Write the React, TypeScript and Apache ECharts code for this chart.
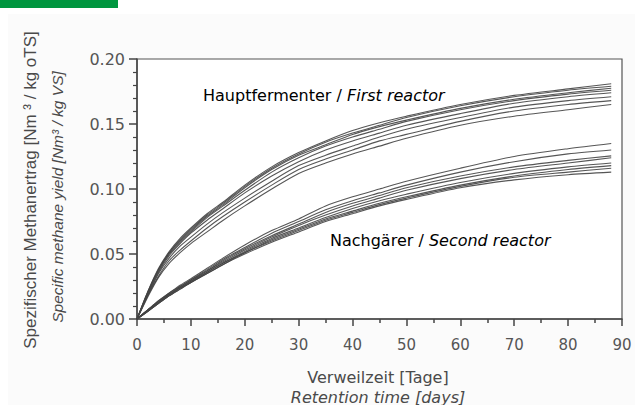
import React, { useEffect, useRef } from "react";
import * as echarts from "echarts";

const days = [0, 2, 4, 6, 8, 10, 13, 16, 20, 25, 30, 35, 40, 45, 50, 60, 70, 80, 88];

const firstReactor = [
  [0, 0.021, 0.039, 0.052, 0.062, 0.070, 0.081, 0.090, 0.103, 0.117, 0.128, 0.137, 0.145, 0.151, 0.156, 0.165, 0.172, 0.177, 0.181],
  [0, 0.021, 0.038, 0.051, 0.061, 0.069, 0.080, 0.089, 0.102, 0.116, 0.127, 0.136, 0.143, 0.149, 0.155, 0.164, 0.171, 0.176, 0.179],
  [0, 0.020, 0.038, 0.051, 0.060, 0.068, 0.079, 0.088, 0.101, 0.115, 0.126, 0.134, 0.142, 0.148, 0.153, 0.162, 0.169, 0.174, 0.1775],
  [0, 0.020, 0.037, 0.050, 0.059, 0.067, 0.078, 0.087, 0.099, 0.113, 0.124, 0.133, 0.140, 0.146, 0.152, 0.161, 0.168, 0.173, 0.176],
  [0, 0.019, 0.036, 0.049, 0.058, 0.066, 0.076, 0.085, 0.097, 0.110, 0.121, 0.130, 0.137, 0.143, 0.149, 0.158, 0.166, 0.171, 0.174],
  [0, 0.018, 0.035, 0.047, 0.056, 0.063, 0.073, 0.082, 0.093, 0.106, 0.118, 0.126, 0.133, 0.140, 0.146, 0.155, 0.163, 0.168, 0.171],
  [0, 0.018, 0.033, 0.045, 0.053, 0.060, 0.070, 0.079, 0.090, 0.103, 0.115, 0.123, 0.130, 0.137, 0.142, 0.152, 0.160, 0.165, 0.168],
  [0, 0.017, 0.032, 0.043, 0.051, 0.058, 0.067, 0.076, 0.087, 0.100, 0.112, 0.120, 0.127, 0.133, 0.139, 0.149, 0.156, 0.161, 0.165],
];

const secondReactor = [
  [0, 0.007, 0.014, 0.020, 0.026, 0.031, 0.039, 0.047, 0.057, 0.068, 0.077, 0.087, 0.094, 0.100, 0.106, 0.116, 0.125, 0.131, 0.135],
  [0, 0.007, 0.014, 0.020, 0.025, 0.030, 0.038, 0.046, 0.055, 0.066, 0.075, 0.084, 0.091, 0.097, 0.103, 0.113, 0.121, 0.127, 0.130],
  [0, 0.007, 0.013, 0.019, 0.025, 0.030, 0.037, 0.045, 0.054, 0.064, 0.073, 0.082, 0.089, 0.095, 0.101, 0.110, 0.117, 0.122, 0.1255],
  [0, 0.007, 0.013, 0.019, 0.024, 0.029, 0.037, 0.044, 0.053, 0.063, 0.072, 0.080, 0.087, 0.093, 0.099, 0.108, 0.115, 0.120, 0.124],
  [0, 0.006, 0.013, 0.019, 0.024, 0.029, 0.036, 0.043, 0.052, 0.062, 0.070, 0.078, 0.085, 0.091, 0.096, 0.105, 0.112, 0.117, 0.120],
  [0, 0.006, 0.012, 0.018, 0.024, 0.028, 0.036, 0.043, 0.051, 0.061, 0.069, 0.077, 0.083, 0.089, 0.094, 0.103, 0.110, 0.115, 0.118],
  [0, 0.006, 0.012, 0.018, 0.023, 0.028, 0.035, 0.042, 0.051, 0.060, 0.068, 0.076, 0.082, 0.088, 0.093, 0.102, 0.109, 0.113, 0.116],
  [0, 0.006, 0.012, 0.018, 0.023, 0.028, 0.035, 0.042, 0.050, 0.059, 0.067, 0.075, 0.081, 0.087, 0.092, 0.101, 0.107, 0.111, 0.113],
];

const yTitleDe = "Spezifischer Methanertrag [Nm ³ / kg oTS]";
const yTitleEn = "Specific methane yield [Nm³ / kg VS]";
const xTitleDe = "Verweilzeit [Tage]";
const xTitleEn = "Retention time [days]";
const firstLabel = ["Hauptfermenter / ", "First reactor"];
const secondLabel = ["Nachgärer / ", "Second reactor"];

const FONT = "DejaVu Sans";
const TEXT = "#4a4a4a";
const AXIS = "#444";

export default function App() {
  const ref = useRef<HTMLDivElement>(null);
  useEffect(() => {
    if (!ref.current) return;
    const chart = echarts.init(ref.current, null, { renderer: "svg" });
    const mkSeries = (arr: number[][], prefix: string) =>
      arr.map((vals, i) => ({
        name: prefix + (i + 1),
        type: "line",
        data: days.map((d, j) => [d, vals[j]]),
        showSymbol: false,
        smooth: 0.25,
        lineStyle: { color: "#444", width: 1.1, opacity: 0.9 },
        silent: true,
      }));
    const annot = (x: number, y: number, parts: string[]) => ({
      type: "text",
      x,
      y,
      style: {
        text: `{n|${parts[0]}}{i|${parts[1]}}`,
        verticalAlign: "middle",
        rich: {
          n: { fontFamily: FONT, fontSize: 16, color: TEXT },
          i: { fontFamily: FONT, fontSize: 16, fontStyle: "italic", color: TEXT },
        },
      },
    });
    chart.setOption({
      animation: false,
      backgroundColor: "#ffffff",
      grid: {
        left: 137,
        right: 13,
        top: 59,
        bottom: 86,
        show: true,
        borderColor: "#555",
        borderWidth: 1.2,
        backgroundColor: "#ffffff",
      },
      xAxis: {
        type: "value",
        min: 0,
        max: 90,
        interval: 10,
        axisLine: { lineStyle: { color: AXIS, width: 1.5 } },
        axisTick: { length: 7, lineStyle: { color: AXIS, width: 1.5 } },
        minorTick: { show: true, splitNumber: 2, length: 4, lineStyle: { color: AXIS, width: 1.5 } },
        splitLine: { show: false },
        axisLabel: { color: "#555", fontSize: 15, fontFamily: FONT, margin: 18 },
      },
      yAxis: {
        type: "value",
        min: 0,
        max: 0.2,
        interval: 0.05,
        axisLine: { show: true, lineStyle: { color: AXIS, width: 1.5 } },
        axisTick: { show: true, length: 8, lineStyle: { color: AXIS, width: 1.5 } },
        minorTick: { show: true, splitNumber: 5, length: 4, lineStyle: { color: AXIS, width: 1.2 } },
        splitLine: { show: false },
        axisLabel: {
          color: "#555",
          fontSize: 16,
          fontFamily: FONT,
          margin: 12,
          formatter: (v: number) => v.toFixed(2),
        },
      },
      series: [...mkSeries(firstReactor, "F"), ...mkSeries(secondReactor, "S")],
      graphic: [
        { type: "rect", left: 8, top: 14, z: -10, shape: { width: 627, height: 391 }, style: { fill: "#fbfbfb" } },
        { type: "rect", left: 0, top: 0, shape: { width: 118, height: 8 }, style: { fill: "#00963f" } },
        {
          type: "text",
          x: 30,
          y: 190,
          rotation: Math.PI / 2,
          style: {
            text: yTitleDe,
            font: "17px 'Liberation Sans', Arial, sans-serif",
            fill: TEXT,
            align: "center",
            verticalAlign: "middle",
          },
        },
        {
          type: "text",
          x: 57,
          y: 197,
          rotation: Math.PI / 2,
          style: {
            text: yTitleEn,
            font: "italic 15.5px 'Liberation Sans', Arial, sans-serif",
            fill: TEXT,
            align: "center",
            verticalAlign: "middle",
          },
        },
        {
          type: "text",
          x: 378,
          y: 377,
          style: { text: xTitleDe, font: `16px '${FONT}'`, fill: TEXT, align: "center", verticalAlign: "middle" },
        },
        {
          type: "text",
          x: 378,
          y: 397,
          style: { text: xTitleEn, font: `italic 16px '${FONT}'`, fill: TEXT, align: "center", verticalAlign: "middle" },
        },
        annot(203, 95, firstLabel),
        annot(330, 240, secondLabel),
      ],
    });
    return () => chart.dispose();
  }, []);
  return (
    <div
      ref={ref}
      style={{ position: "fixed", left: 0, top: 0, width: 635, height: 405, background: "#fff" }}
    />
  );
}
